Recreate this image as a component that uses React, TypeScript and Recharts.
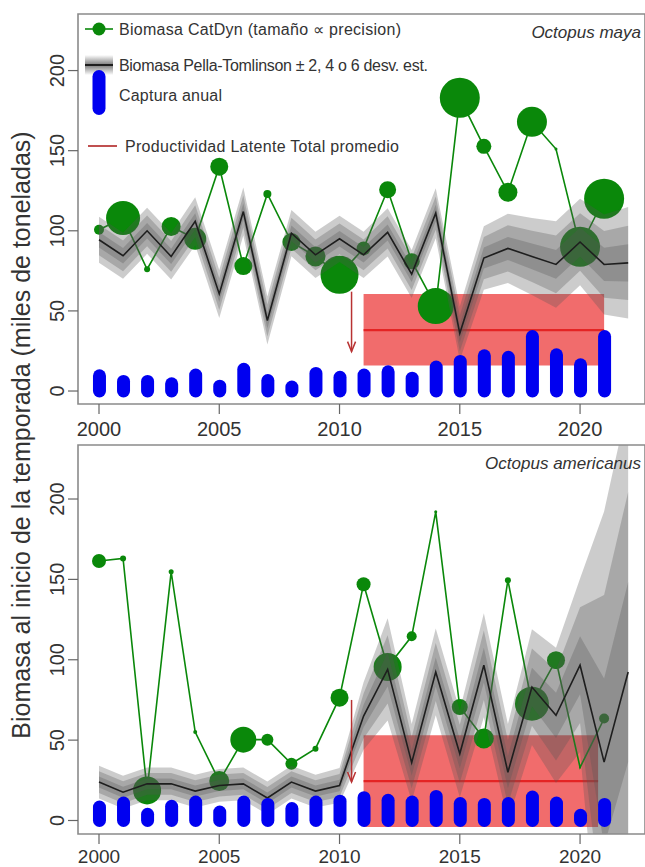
import React from 'react';
import {
  ComposedChart,
  Line,
  Area,
  Bar,
  Scatter,
  XAxis,
  YAxis,
  ReferenceArea,
  ReferenceLine,
  ReferenceDot,
} from 'recharts';

const FONT = '"Liberation Sans", Arial, Helvetica, sans-serif';
const GREEN = '#0a880a';
const BLUE = '#0000f0';
const RED_FILL = '#f06060';
const RED_LINE = '#e42424';
const ARROW = '#b83232';
const TEXT = '#333333';
const BAND = '#555555';

const years = [
  2000, 2001, 2002, 2003, 2004, 2005, 2006, 2007, 2008, 2009, 2010, 2011,
  2012, 2013, 2014, 2015, 2016, 2017, 2018, 2019, 2020, 2021, 2022,
];
const yearTicks = [2000, 2005, 2010, 2015, 2020];
const bioTicks = [0, 50, 100, 150, 200];

// Octopus maya (miles de toneladas)
const mayaCatch = [9.5, 6, 6, 4.5, 10, 3, 13.6, 6.5, 2.5, 11, 8.6, 10, 12, 8, 15, 18.5, 22, 21, 34, 22.6, 16.4, 34];
const mayaCatDyn = [100.6, 108, 76, 102.7, 95, 140, 78, 123, 93, 84, 72.5, 89, 125.6, 81, 53, 183, 152.7, 124, 168, 151, 90, 120];
const mayaCatDynSize = [5, 17, 3, 9.5, 11, 9, 9, 4, 9, 10, 19, 7, 8.5, 8, 18, 20, 7.5, 9.5, 15, 1.5, 20, 20];
const mayaPT = [94.4, 84.4, 100, 84, 106, 60.6, 112, 44, 98.5, 85, 95, 85, 99, 73, 111, 36, 83, 89, 84, 79, 93, 79, 80];
const mayaSD = [2.4, 2.4, 2.4, 2.4, 2.5, 2.5, 2.5, 2.5, 2.4, 2.4, 2.4, 2.4, 2.5, 2.5, 2.6, 2.8, 3.3, 3.6, 4, 4.5, 4.5, 5.2, 5.8];
const mayaPLT = [2011, 2021, 16, 60.5, 38]; // desde, hasta, min, max, promedio
const mayaArrow = [2010.5, 62, 24.6]; // x, desde, hasta

// Octopus americanus
const amerCatch = [8.4, 10.9, 3.9, 8.8, 11.5, 5.3, 11.5, 10, 7.4, 11.5, 12, 14.2, 12.6, 11.5, 15, 10.5, 10, 10.5, 14.6, 10.9, 3.2, 10];
const amerCatDyn = [161.4, 163, 18.7, 154.7, 55, 24.5, 50.3, 50.3, 35.3, 44.7, 76.4, 147, 95.5, 114.6, 192, 70.6, 51, 149.5, 72.7, 99.7, 33, 63.4];
const amerCatDynSize = [7, 3, 14, 2.5, 2, 10, 13, 6, 6, 3, 9, 7, 14, 5, 1.5, 8, 10, 3, 17, 9, 1, 5];
const amerPT = [23.9, 17.6, 22.8, 22.8, 18.3, 21.8, 22.8, 14, 23.9, 18.3, 21.8, 65, 94, 36, 92.4, 41.5, 96.6, 30, 83, 65.4, 96.6, 36.3, 92.4];
const amerSD = [1.7, 1.7, 1.7, 1.7, 1.7, 1.7, 1.7, 1.7, 1.7, 1.7, 1.8, 3.5, 5.3, 4, 4.5, 4.5, 5.4, 5, 6, 7, 9, 26, 28];
const amerPLT = [2011, 2020.75, -4, 53, 24.5];
const amerArrow = [2010.5, 75, 24];

const X_DOMAIN = [1999.127, 2022.7];

function buildRows(catchArr: number[], cd: number[], cdSize: number[], pt: number[], sd: number[]) {
  return years.map((year, i) => ({
    year,
    catch: catchArr[i],
    cd: cd[i],
    cdR: cdSize[i],
    pt: pt[i],
    b2: [pt[i] - 2 * sd[i], pt[i] + 2 * sd[i]],
    b4: [pt[i] - 4 * sd[i], pt[i] + 4 * sd[i]],
    b6: [pt[i] - 6 * sd[i], pt[i] + 6 * sd[i]],
  }));
}

const CatDynCircle = (props: any) => {
  const { cx, cy, payload } = props;
  if (cx == null || cy == null || payload == null || payload.cd == null) return <g />;
  return <circle cx={cx} cy={cy} r={payload.cdR} fill={GREEN} />;
};

// captura: barra gruesa con extremos redondeados (como lwd grande en R)
const Capsule = (props: any) => {
  const { x, y, width, height } = props;
  if (height == null || width == null) return null;
  const r = width / 2;
  return <rect x={x} y={y - r} width={width} height={height + 2 * r} rx={r} ry={r} fill={BLUE} />;
};

const ArrowHead = (props: any) => {
  const { cx, cy } = props;
  return (
    <path
      d={`M${cx - 4},${cy - 10} L${cx},${cy} L${cx + 4},${cy - 10}`}
      stroke={ARROW}
      strokeWidth={1.5}
      fill="none"
    />
  );
};

const YTick = (props: any) => {
  const { y, payload } = props;
  return (
    <text
      x={57}
      y={y}
      transform={`rotate(-90 57 ${y})`}
      textAnchor="middle"
      dominantBaseline="central"
      fontSize={20}
      fontFamily={FONT}
      fill={TEXT}
    >
      {payload.value}
    </text>
  );
};

const makeXTick = (dy: number, size: number) => (props: any) => {
  const { x, y, payload } = props;
  return (
    <text
      x={x}
      y={y + dy}
      textAnchor="middle"
      dominantBaseline="central"
      fontSize={size}
      fontFamily={FONT}
      fill={TEXT}
    >
      {payload.value}
    </text>
  );
};

interface PanelProps {
  rows: ReturnType<typeof buildRows>;
  height: number;
  top: number;
  axisHeight: number;
  yDomain: [number, number];
  plt: number[];
  arrow: number[];
  tickDy: number;
  tickSize: number;
}

const Panel: React.FC<PanelProps> = ({ rows, height, top, axisHeight, yDomain, plt, arrow, tickDy, tickSize }) => (
  <ComposedChart
    width={645}
    height={height}
    data={rows}
    margin={{ top, right: 0, left: 0, bottom: 0 }}
  >
    <XAxis
      dataKey="year"
      type="number"
      domain={X_DOMAIN}
      allowDataOverflow
      ticks={yearTicks}
      height={axisHeight}
      axisLine={false}
      tickLine={{ stroke: '#666', strokeWidth: 1.2 }}
      tickSize={10}
      tick={makeXTick(tickDy, tickSize)}
      interval={0}
    />
    <YAxis
      type="number"
      domain={yDomain}
      allowDataOverflow
      ticks={bioTicks}
      width={78}
      axisLine={false}
      tickLine={{ stroke: '#666', strokeWidth: 1.2 }}
      tickSize={10}
      tick={<YTick />}
      interval={0}
    />
    <ReferenceArea
      x1={plt[0]}
      x2={plt[1]}
      y1={plt[2]}
      y2={plt[3]}
      fill={RED_FILL}
      fillOpacity={0.92}
      stroke="none"
      zIndex={50}
    />
    <ReferenceLine
      segment={[{ x: plt[0], y: plt[4] }, { x: plt[1], y: plt[4] }]}
      stroke={RED_LINE}
      strokeWidth={2.2}
      zIndex={60}
    />
    <Line
      dataKey="cd"
      type="linear"
      stroke={GREEN}
      strokeWidth={1.6}
      dot={false}
      activeDot={false}
      isAnimationActive={false}
      zIndex={400}
    />
    <Scatter dataKey="cd" shape={CatDynCircle} isAnimationActive={false} zIndex={410} />
    <Area dataKey="b6" type="linear" stroke="none" fill={BAND} fillOpacity={0.3} isAnimationActive={false} activeDot={false} zIndex={450} />
    <Area dataKey="b4" type="linear" stroke="none" fill={BAND} fillOpacity={0.3} isAnimationActive={false} activeDot={false} zIndex={451} />
    <Area dataKey="b2" type="linear" stroke="none" fill={BAND} fillOpacity={0.3} isAnimationActive={false} activeDot={false} zIndex={452} />
    <Line
      dataKey="pt"
      type="linear"
      stroke="#1e1e1e"
      strokeWidth={1.6}
      dot={false}
      activeDot={false}
      isAnimationActive={false}
      zIndex={460}
    />
    <Bar dataKey="catch" barSize={13} shape={Capsule} isAnimationActive={false} zIndex={465} />
    <ReferenceLine
      segment={[{ x: arrow[0], y: arrow[1] }, { x: arrow[0], y: arrow[2] }]}
      stroke={ARROW}
      strokeWidth={1.5}
      zIndex={470}
    />
    <ReferenceDot x={arrow[0]} y={arrow[2]} r={1} shape={ArrowHead} zIndex={480} />
    <ReferenceArea
      x1={X_DOMAIN[0]}
      x2={X_DOMAIN[1]}
      y1={yDomain[0]}
      y2={yDomain[1]}
      fill="none"
      stroke="#8a8a8a"
      strokeWidth={1.6}
      zIndex={490}
    />
  </ComposedChart>
);

const Legend = () => (
  <g fontFamily={FONT} fontSize={16} fill={TEXT}>
    <defs>
      <linearGradient id="ptBand" x1="0" y1="0" x2="0" y2="1">
        <stop offset="0%" stopColor="#ffffff" />
        <stop offset="50%" stopColor="#7a7a7a" />
        <stop offset="100%" stopColor="#ffffff" />
      </linearGradient>
    </defs>
    <line x1={85} x2={113} y1={29} y2={29} stroke={GREEN} strokeWidth={1.6} />
    <circle cx={99} cy={29} r={6.5} fill={GREEN} />
    <text x={119} y={29} dominantBaseline="central" textLength={282}>
      Biomasa CatDyn (tamaño ∝ precision)
    </text>

    <rect x={85} y={55} width={28} height={20} fill="url(#ptBand)" />
    <line x1={85} x2={113} y1={65} y2={65} stroke="#1e1e1e" strokeWidth={2} />
    <text x={119} y={65} dominantBaseline="central" textLength={309}>
      Biomasa Pella-Tomlinson ± 2, 4 o 6 desv. est.
    </text>

    <rect x={92.5} y={70} width={13} height={45} rx={6.5} fill={BLUE} />
    <text x={119} y={95} dominantBaseline="central" textLength={103}>
      Captura anual
    </text>

    <line x1={88} x2={117} y1={146} y2={146} stroke="#c05050" strokeWidth={2} />
    <text x={125} y={146} dominantBaseline="central" textLength={274}>
      Productividad Latente Total promedio
    </text>
  </g>
);

export default function App() {
  const mayaRows = buildRows(mayaCatch, mayaCatDyn, mayaCatDynSize, mayaPT, mayaSD);
  const amerRows = buildRows(amerCatch, amerCatDyn, amerCatDynSize, amerPT, amerSD);

  return (
    <div
      style={{
        position: 'absolute',
        left: 0,
        top: 0,
        width: 645,
        height: 867,
        background: '#ffffff',
        overflow: 'hidden',
        fontFamily: FONT,
      }}
    >
      <div style={{ position: 'absolute', left: 0, top: 0 }}>
        <Panel
          rows={mayaRows}
          height={440}
          top={14}
          axisHeight={36}
          yDomain={[-8.1, 235.3]}
          plt={mayaPLT}
          arrow={mayaArrow}
          tickDy={13}
          tickSize={20}
        />
      </div>
      <div style={{ position: 'absolute', left: 0, top: 440 }}>
        <Panel
          rows={amerRows}
          height={427}
          top={5}
          axisHeight={33}
          yDomain={[-8.4, 233.6]}
          plt={amerPLT}
          arrow={amerArrow}
          tickDy={10}
          tickSize={19}
        />
      </div>
      <svg
        width={645}
        height={867}
        style={{ position: 'absolute', left: 0, top: 0, pointerEvents: 'none' }}
      >
        <Legend />
        <text
          x={641}
          y={32}
          textAnchor="end"
          dominantBaseline="central"
          fontFamily={FONT}
          fontStyle="italic"
          fontSize={17}
          fill={TEXT}
        >
          Octopus maya
        </text>
        <text
          x={641}
          y={463}
          textAnchor="end"
          dominantBaseline="central"
          fontFamily={FONT}
          fontStyle="italic"
          fontSize={17}
          fill={TEXT}
        >
          Octopus americanus
        </text>
        <text
          transform="translate(30,435) rotate(-90)"
          textAnchor="middle"
          fontFamily={FONT}
          fontSize={25}
          fill={TEXT}
        >
          Biomasa al inicio de la temporada (miles de toneladas)
        </text>
      </svg>
    </div>
  );
}
